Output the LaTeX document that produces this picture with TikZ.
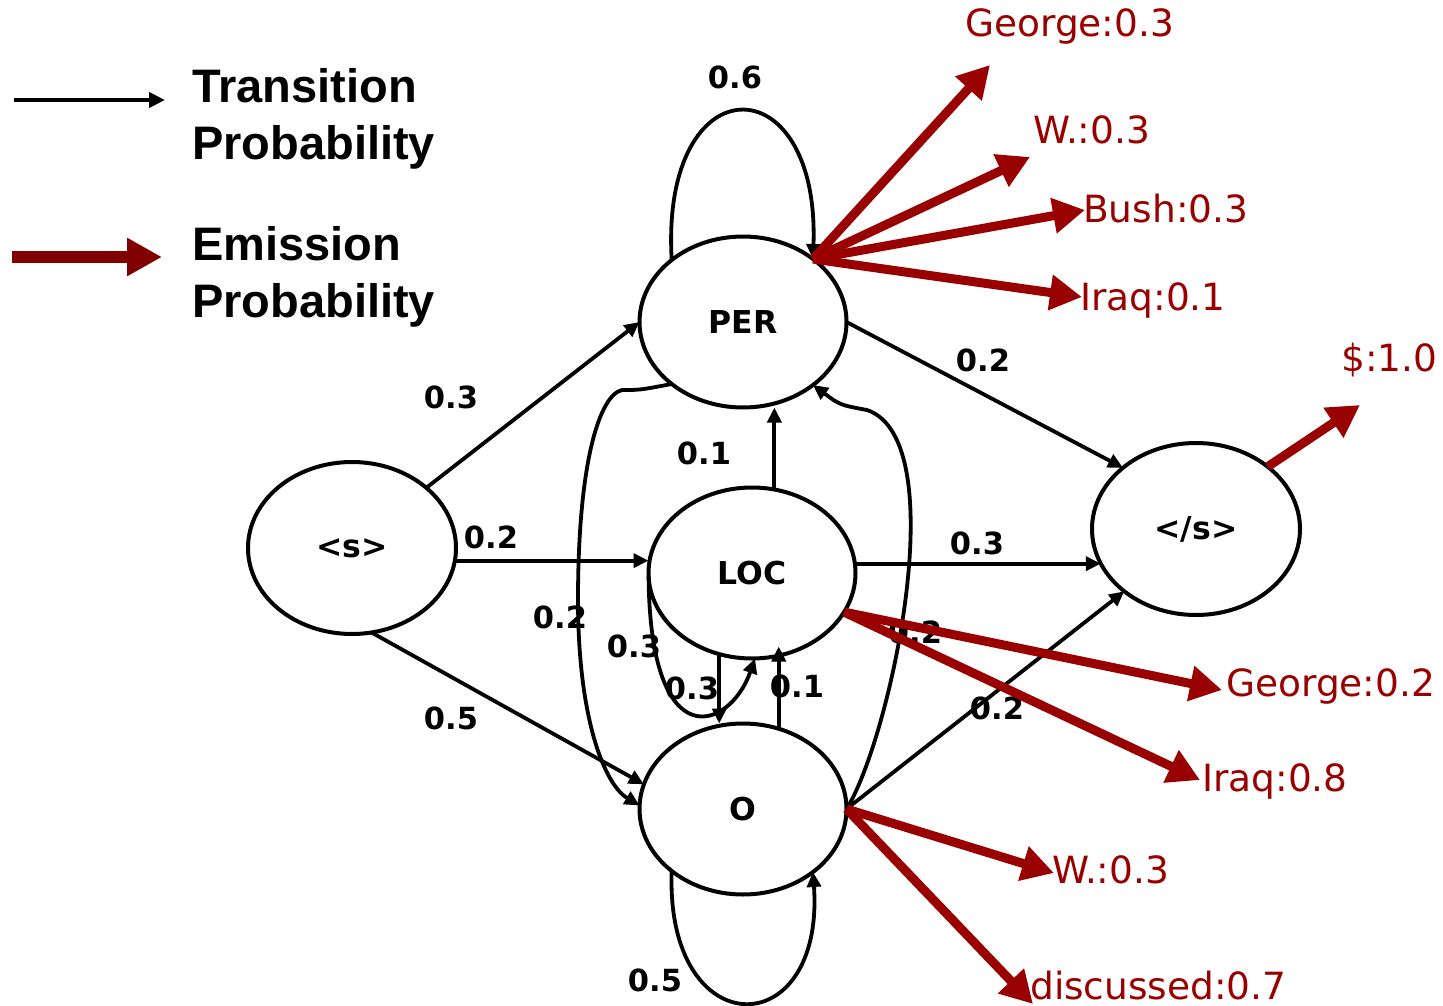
\documentclass[tikz,border=0pt]{standalone}
\usepackage{fontspec}
\setmainfont{DejaVu Sans}
\newfontfamily\legendfont{Liberation Sans}
\usetikzlibrary{shapes.geometric,arrows.meta}
\definecolor{emitred}{RGB}{153,0,0}
\definecolor{legred}{RGB}{128,0,0}
\tikzset{
  state/.style={ellipse, draw, line width=4pt, minimum width=207pt, minimum height=171pt,
    inner sep=0pt, outer sep=0pt, font=\fontsize{31.5}{37}\selectfont\bfseries},
  trans/.style={line width=3.8pt, -{Triangle[length=15pt,width=14pt]}},
  emit/.style={draw=emitred, line width=9pt, -{Triangle[length=32pt,width=34pt]}},
  lbl/.style={font=\fontsize{30.5}{36}\selectfont\bfseries, inner sep=0pt},
  elbl/.style={text=emitred, font=\fontsize{37.5}{44}\selectfont, anchor=base west, inner sep=0pt},
  legtxt/.style={font=\legendfont\bfseries\fontsize{47}{56}\selectfont, anchor=base west, inner sep=0pt}
}
\begin{document}
\begin{tikzpicture}[x=1pt,y=-1pt]
\useasboundingbox (0,0) rectangle (1443,1006);

% legend
\coordinate (lgA1) at (14,100);
\coordinate (lgA2) at (165,100);
\draw[line width=4.5pt, -{Triangle[length=16pt,width=15pt]}] (lgA1) -- (lgA2);
\node[legtxt] (lgT1) at (192,103) {Transition};
\node[legtxt] (lgT2) at (192,160) {Probability};
\coordinate (lgB1) at (12,257);
\coordinate (lgB2) at (162,257);
\draw[draw=legred, line width=12pt, -{Triangle[length=35pt,width=36pt]}] (lgB1) -- (lgB2);
\node[legtxt] (lgE1) at (192,260) {Emission};
\node[legtxt] (lgE2) at (192,317) {Probability};

% states
\node[state, minimum width=208pt, minimum height=172pt] (s) at (352,548) {<s>};
\node[state] (PER) at (743,322) {PER};
\node[state] (LOC) at (752,573) {LOC};
\node[state] (O) at (743,809) {O};
\node[state, minimum width=208pt, minimum height=172pt] (e) at (1196,529) {</s>};

% transitions
\draw[trans] (s.39) -- (PER.west);
\draw[trans] (s.-7) -- (s.-7 -| LOC.west);
\draw[trans] (s.-77) -- (O.166);
\draw[trans] (PER.139) .. controls (660,62) and (820,62) .. (PER.42);
\draw[trans] (PER.east) -- (e.140);
\draw[trans] (PER.221) .. controls (640,390) .. (622,390)
   .. controls (600,395) and (578,460) .. (578,600)
   .. controls (578,720) and (605,785) .. (O.178);
\draw[trans] (O.east) .. controls (890,740) and (955,440) .. (867,410)
   .. controls (840,405) .. (PER.-42);
\draw[trans] (LOC.75) -- (LOC.75 |- PER.south);
\draw[trans] (LOC.east |- e.200) -- (e.200);
\draw[trans] (LOC.248) -- (LOC.248 |- O.north);
\draw[trans, shorten >=-12pt] (O.66) -- (O.66 |- LOC.south);
\draw[trans] (LOC.182) .. controls (650,760) and (730,730) .. (LOC.-88);
\draw[trans] (O.221) .. controls (665,1046) and (825,1046) .. (O.318);
\draw[trans] (O.east) -- (e.221);

% transition labels
\node[lbl] (p1) at (735,77) {0.6};
\node[lbl] (p2) at (451,397) {0.3};
\node[lbl] (p3) at (491,537) {0.2};
\node[lbl] (p4) at (451,718) {0.5};
\node[lbl] (p5) at (983,360) {0.2};
\node[lbl] (p6) at (704,453) {0.1};
\node[lbl] (p7) at (977,543) {0.3};
\node[lbl] (p8) at (560,617) {0.2};
\node[lbl] (p9) at (634,646) {0.3};
\node[lbl] (p10) at (692,688) {0.3};
\node[lbl] (p11) at (797,686) {0.1};
\node[lbl] (p12) at (915,632) {0.2};
\node[lbl] (p13) at (997,708) {0.2};
\node[lbl] (p14) at (655,980) {0.5};

% emission targets
\coordinate (tG1) at (990,65);
\coordinate (tW1) at (1030,157);
\coordinate (tB1) at (1085,210);
\coordinate (tI1) at (1082,297);
\coordinate (tD) at (1360,405);
\coordinate (tG2) at (1222,690);
\coordinate (tI2) at (1200,780);
\coordinate (tW2) at (1054,873);
\coordinate (tDi) at (1033,1004);

\draw[emit] (PER.42) -- (tG1);
\draw[emit] (PER.42) -- (tW1);
\draw[emit] (PER.42) -- (tB1);
\draw[emit] (PER.42) -- (tI1);
\draw[emit] (e.41) -- (tD);
\draw[emit] (LOC.-23) -- (tG2);
\draw[emit] (LOC.-23) -- (tI2);
\draw[emit] (O.east) -- (tW2);
\draw[emit] (O.east) -- (tDi);

% emission labels
\node[elbl] (eG1) at (965,37) {George:0.3};
\node[elbl] (eW1) at (1033,143) {W.:0.3};
\node[elbl] (eB1) at (1083,222) {Bush:0.3};
\node[elbl] (eI1) at (1080,310) {Iraq:0.1};
\node[elbl] (eD) at (1341,371) {\$:1.0};
\node[elbl] (eG2) at (1226,696) {George:0.2};
\node[elbl] (eI2) at (1202,791) {Iraq:0.8};
\node[elbl] (eW2) at (1052,883) {W.:0.3};
\node[elbl] (eDi) at (1030,999) {discussed:0.7};
\end{tikzpicture}
\end{document}
